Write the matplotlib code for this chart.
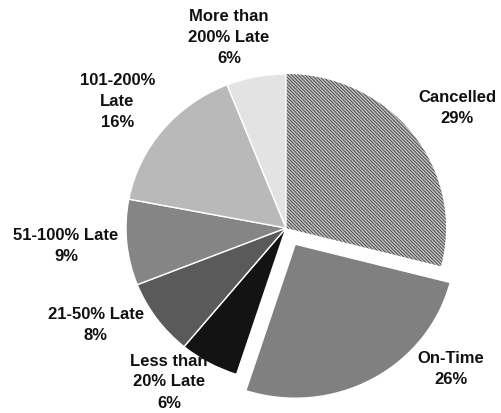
import numpy as np
import matplotlib
matplotlib.use("Agg")
import matplotlib.pyplot as plt

plt.rcParams['font.family'] = ['Liberation Sans', 'DejaVu Sans']
plt.rcParams['hatch.linewidth'] = 0.7

categories = ['Cancelled', 'On-Time', 'Less than\n20% Late', '21-50% Late',
              '51-100% Late', '101-200%\nLate', 'More than\n200% Late']
shares = [29, 26, 6, 8, 9, 16, 6]

colors = ['#c8c8c8', '#808080', '#131313', '#5a5a5a', '#858585', '#b9b9b9', '#e3e3e3']
explode = [0, 0.12, 0, 0, 0, 0, 0]
# label centres relative to pie centre (x in units of rx, y in units of ry)
label_pos = [(1.07, 0.78), (1.03, -0.915), (-0.73, -1.0), (-1.19, -0.63),
             (-1.375, -0.12), (-1.055, 0.82), (-0.356, 1.234)]

fig = plt.figure(figsize=(5.01, 4.13), dpi=100)
ax = fig.add_axes([0, 0, 1, 1])

wedges, _ = ax.pie(shares, colors=colors, explode=explode, startangle=90,
                   counterclock=False, radius=1,
                   wedgeprops=dict(edgecolor='white', linewidth=1.0))

# hatched "Cancelled" slice (dark downward diagonal)
wedges[0].set_edgecolor('#454545')
wedges[0].set_linewidth(0)
wedges[0].set_hatch('\\' * 10)

for (x, y), name, v in zip(label_pos, categories, shares):
    ax.text(x, y, f"{name}\n{v}%", ha='center', va='center', fontsize=12,
            fontweight='bold', linespacing=1.5, color='#111111')

# pie centre at (286, 228) px, slightly wider than tall (rx=160, ry=154)
ax.set_xlim(-286 / 160, (501 - 286) / 160)
ax.set_ylim(-(413 - 228) / 154, 228 / 154)
ax.set_aspect('auto')
ax.axis('off')

fig.savefig('out.png', dpi=100)
